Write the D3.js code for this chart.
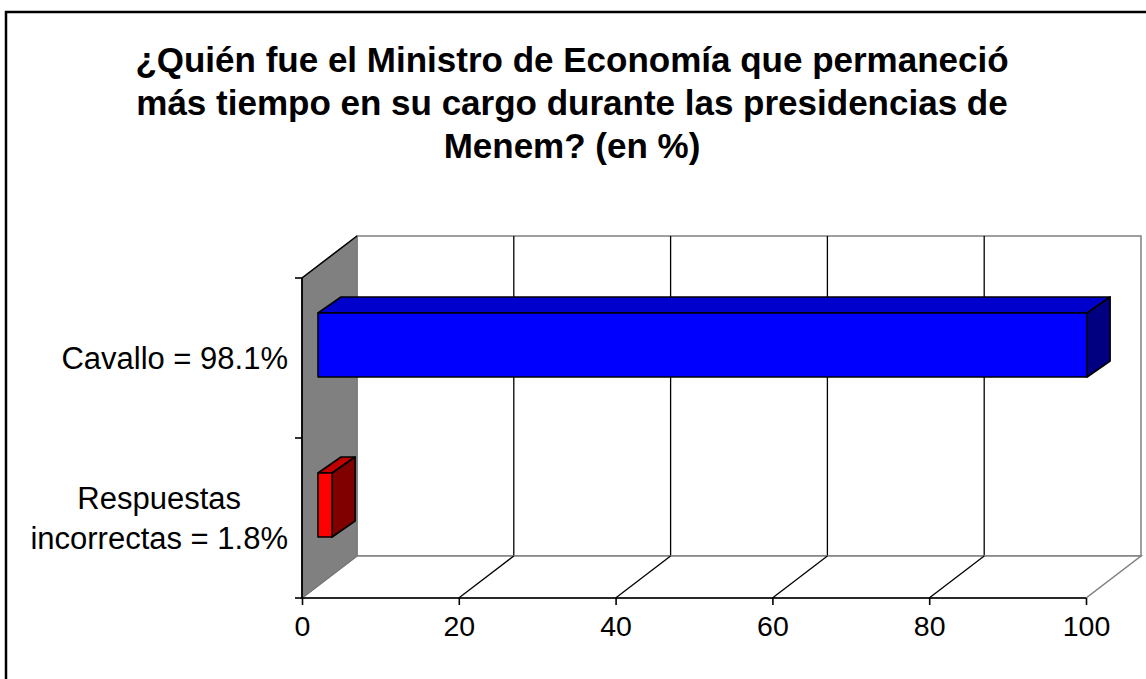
<!DOCTYPE html>
<html><head><meta charset="utf-8">
<script src="https://cdn.jsdelivr.net/npm/d3@7"></script>
<style>html,body{margin:0;padding:0;background:#fff;}svg{display:block;font-family:"Liberation Sans",Arial,sans-serif;}</style>
</head><body>
<script>
const titleLines = ["¿Quién fue el Ministro de Economía que permaneció", "más tiempo en su cargo durante las presidencias de", "Menem? (en %)"];
const categories = ["Cavallo = 98.1%", "Respuestas incorrectas = 1.8%"];
const categoryLines = [["Cavallo = 98.1%"], ["Respuestas", "incorrectas = 1.8%"]];
const values = [98.1, 1.8];
const tickValues = [0, 20, 40, 60, 80, 100];
const frontColors = ["#0000FF", "#FF0000"];
const topColors = ["#0000CC", "#C00000"];
const sideColors = ["#000080", "#800000"];

const W = 1146, H = 679;
const svg = d3.select("body").append("svg").attr("width", W).attr("height", H);

// outer chart border
svg.append("rect").attr("x", 6).attr("y", 12).attr("width", W + 10).attr("height", H + 10)
  .attr("fill", "#fff").attr("stroke", "#000").attr("stroke-width", 2.5);

// title
const t = svg.append("text").attr("text-anchor", "middle").attr("font-weight", "bold")
  .attr("font-size", 35).attr("fill", "#000");
titleLines.forEach((l, i) => t.append("tspan").attr("x", 572).attr("y", 72 + i * 43).text(l));

// geometry
const x = d3.scaleLinear().domain([0, 100]).range([302, 1086]);
const y = d3.scaleBand().domain(categories).range([278, 598]);
const DX = 55, DY = -42;           // wall depth
const bF = [16, -13], bB = [39, -29]; // bar front / back depth offsets
const barH = y.bandwidth() / 2.5;
const x0 = x(0), x1 = x(100), yTop = y.range()[0], yBot = y.range()[1];

// back wall
svg.append("rect").attr("x", x0 + DX).attr("y", yTop + DY).attr("width", x1 - x0).attr("height", yBot - yTop)
  .attr("fill", "#fff").attr("stroke", "#808080").attr("stroke-width", 1.5);
// gridlines on back wall
svg.selectAll(".grid").data(tickValues.filter(v => v > 0 && v < 100)).enter().append("line")
  .attr("x1", d => x(d) + DX).attr("x2", d => x(d) + DX)
  .attr("y1", yTop + DY).attr("y2", yBot + DY).attr("stroke", "#000").attr("stroke-width", 1.3);
// floor
svg.append("path").attr("d", `M${x0},${yBot}L${x1},${yBot}L${x1 + DX},${yBot + DY}L${x0 + DX},${yBot + DY}Z`)
  .attr("fill", "#fff").attr("stroke", "#808080").attr("stroke-width", 1.5);
svg.selectAll(".fgrid").data(tickValues.filter(v => v > 0 && v < 100)).enter().append("line")
  .attr("x1", d => x(d)).attr("x2", d => x(d) + DX)
  .attr("y1", yBot).attr("y2", yBot + DY).attr("stroke", "#000").attr("stroke-width", 1.3);
// left wall
svg.append("path").attr("d", `M${x0},${yTop}L${x0 + DX},${yTop + DY}L${x0 + DX},${yBot + DY}L${x0},${yBot}Z`)
  .attr("fill", "#808080").attr("stroke", "#777").attr("stroke-width", 1.2);
svg.append("line").attr("x1", x0).attr("y1", yTop).attr("x2", x0 + DX).attr("y2", yTop + DY)
  .attr("stroke", "#000").attr("stroke-width", 1.5);

// bars
const bars = svg.selectAll(".bar").data(categories.map((c, i) => ({ c, v: values[i], i }))).enter().append("g");
bars.each(function (d) {
  const g = d3.select(this);
  const cy = y(d.c) + y.bandwidth() / 2;
  const fx0 = x(0) + bF[0], fx1 = x(d.v) + bF[0];
  const ft = cy - barH / 2 + bF[1], fb = cy + barH / 2 + bF[1];
  const ox = bB[0] - bF[0], oy = bB[1] - bF[1];
  const st = { stroke: "#000", "stroke-width": 1.6, "stroke-linejoin": "round" };
  const add = (p, fill) => {
    const e = g.append("path").attr("d", p).attr("fill", fill);
    Object.entries(st).forEach(([k, v]) => e.attr(k, v));
  };
  add(`M${fx0},${ft}L${fx0 + ox},${ft + oy}L${fx1 + ox},${ft + oy}L${fx1},${ft}Z`, topColors[d.i]);
  add(`M${fx1},${ft}L${fx1 + ox},${ft + oy}L${fx1 + ox},${fb + oy}L${fx1},${fb}Z`, sideColors[d.i]);
  add(`M${fx0},${ft}L${fx1},${ft}L${fx1},${fb}L${fx0},${fb}Z`, frontColors[d.i]);
});

// x axis
const xAxis = d3.axisBottom(x).tickValues(tickValues).tickSize(7).tickPadding(11).tickFormat(d3.format("d"));
const gx = svg.append("g").attr("transform", `translate(0,${yBot})`).call(xAxis);
gx.select(".domain").attr("stroke", "#000").attr("stroke-width", 1.6).attr("d", `M${x0},0H${x1}`);
gx.selectAll(".tick line").attr("stroke", "#000").attr("stroke-width", 1.6);
gx.selectAll(".tick text").attr("font-size", 28.5).attr("fill", "#000").attr("font-family", "Liberation Sans, Arial, sans-serif");

// y axis (category) line and ticks at band boundaries
svg.append("line").attr("x1", x0).attr("x2", x0).attr("y1", yTop).attr("y2", yBot).attr("stroke", "#000").attr("stroke-width", 1.8);
const bounds = [yTop].concat(categories.map(c => y(c) + y.bandwidth()));
svg.selectAll(".ytick").data(bounds).enter().append("line")
  .attr("x1", x0 - 7).attr("x2", x0).attr("y1", d => d).attr("y2", d => d)
  .attr("stroke", "#000").attr("stroke-width", 1.6);

// category labels
categories.forEach((c, i) => {
  const lines = categoryLines[i];
  const cy = y(c) + y.bandwidth() / 2;
  const lh = 40;
  const txt = svg.append("text").attr("font-size", 31).attr("fill", "#000").attr("text-anchor", "middle");
  lines.forEach((l, j) => {
    txt.append("tspan").attr("y", cy + 11 + (j - (lines.length - 1) / 2) * lh).text(l);
  });
  const tspans = txt.selectAll("tspan").nodes();
  const maxW = d3.max(tspans, n => n.getComputedTextLength());
  tspans.forEach(n => d3.select(n).attr("x", 288 - maxW / 2));
});
</script>
</body></html>
